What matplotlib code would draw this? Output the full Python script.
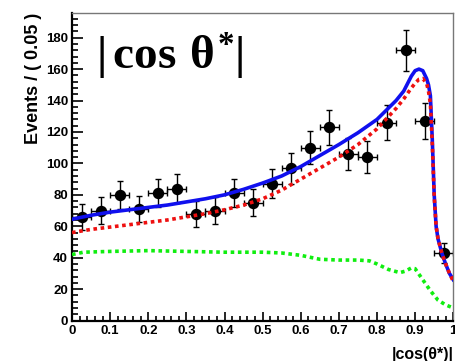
import numpy as np
import matplotlib
matplotlib.use("Agg")
import matplotlib.pyplot as plt
from matplotlib.ticker import MultipleLocator

plt.rcParams['font.family'] = ['Liberation Sans', 'DejaVu Sans']
plt.rcParams['mathtext.fontset'] = 'custom'
plt.rcParams['mathtext.rm'] = 'Liberation Serif:bold'
plt.rcParams['mathtext.it'] = 'Liberation Serif:bold'
plt.rcParams['mathtext.bf'] = 'Liberation Serif:bold'

# data points, bins of width 0.05
bin_centers = [0.025, 0.075, 0.125, 0.175, 0.225, 0.275, 0.325, 0.375, 0.425, 0.475,
               0.525, 0.575, 0.625, 0.675, 0.725, 0.775, 0.825, 0.875, 0.925, 0.975]
events = [66, 70, 80, 71, 81, 84, 68, 70, 81, 75,
          87, 97, 110, 123, 106, 104, 126, 172, 127, 43]
events_err = [8.1, 8.4, 8.9, 8.4, 9.0, 9.2, 8.2, 8.4, 9.0, 8.7,
              9.3, 9.8, 10.5, 11.1, 10.3, 10.2, 11.2, 13.1, 11.3, 6.6]
bin_half = [0.025] * len(bin_centers)

# total fit (blue)
fit_x = [0.0, 0.05, 0.1, 0.15, 0.2, 0.25, 0.3, 0.35, 0.4, 0.45, 0.5, 0.55, 0.6,
         0.65, 0.7, 0.75, 0.8, 0.85, 0.87, 0.89, 0.9, 0.91, 0.92, 0.93, 0.935,
         0.94, 0.945, 0.95, 0.955, 0.96, 0.97, 0.98, 0.99, 1.0]
fit_total = [64.5, 67, 69, 70.5, 72, 73.5, 75.5, 77.5, 80, 83.5, 87.5, 92, 98,
             105, 112, 119.5, 128, 140, 146, 155.5, 159, 160, 159, 154, 150,
             143, 115, 80, 60, 52, 43, 36, 30, 26]
# signal component (red)
fit_signal = [56, 58, 59.5, 61, 62.5, 64, 66, 68, 70.5, 73.5, 77.5, 83, 90,
              97, 104, 112, 122, 135, 141, 148, 151, 153.5, 154, 151, 146,
              138, 112, 79, 60, 52, 43, 36, 30, 25]

# background component (green)
bkg_x = [0.0, 0.03, 0.1, 0.2, 0.3, 0.4, 0.5, 0.55, 0.6, 0.65, 0.7, 0.75, 0.78,
         0.8, 0.83, 0.86, 0.875, 0.89, 0.9, 0.92, 0.94, 0.96, 0.98, 1.0]
fit_bkg = [42, 43.5, 44, 44.5, 44, 43.5, 43.5, 43, 41.5, 39, 38.5, 38.5, 38,
           36, 32.5, 30.5, 31.5, 33.5, 33, 26, 19, 13, 10, 8]

fig = plt.figure(figsize=(4.56, 3.61), dpi=100)
ax = fig.add_axes([0.158, 0.112, 0.836, 0.852])

ax.errorbar(bin_centers, events, yerr=events_err, xerr=bin_half, fmt='o',
            color='black', ms=7.2, elinewidth=1.0, capsize=2.5, capthick=1.0,
            zorder=2)
ax.plot(fit_x, fit_total, color='#1010ee', lw=2.6, zorder=3)
ax.plot(fit_x, fit_signal, color='#ee1010', lw=2.6, ls=(0, (1, 1)), zorder=4)
ax.plot(bkg_x, fit_bkg, color='#10ee10', lw=2.6, ls=(0, (1, 1)), zorder=4)

ax.set_xlim(0, 1)
ax.set_ylim(0, 195.7)

ax.xaxis.set_major_locator(MultipleLocator(0.1))
ax.xaxis.set_minor_locator(MultipleLocator(0.02))
ax.yaxis.set_major_locator(MultipleLocator(20))
ax.yaxis.set_minor_locator(MultipleLocator(4))
ax.xaxis.set_major_formatter(plt.FuncFormatter(lambda v, p: f"{v:g}"))

ax.tick_params(axis='both', which='both', direction='in', top=False, right=False,
               width=1.2, labelsize=9.5, pad=3)
ax.tick_params(axis='x', which='major', length=6.5)
ax.tick_params(axis='x', which='minor', length=3.5)
ax.tick_params(axis='y', which='major', length=8)
ax.tick_params(axis='y', which='minor', length=4)
for lab in ax.get_xticklabels() + ax.get_yticklabels():
    lab.set_fontweight('bold')

for side in ('left', 'bottom'):
    ax.spines[side].set_linewidth(1.6)
for side in ('top', 'right'):
    ax.spines[side].set_color('#777777')
    ax.spines[side].set_linewidth(1.0)

ax.set_ylabel('Events / ( 0.05 )', fontsize=13, fontweight='bold', loc='top')
ax.yaxis.set_label_coords(-0.078, 1.0)
ax.set_xlabel('|cos(θ*)|', fontsize=11.5, fontweight='bold', loc='right')
ax.xaxis.set_label_coords(1.0, -0.085)
ax.xaxis.label.set_va('top')

ax.text(0.062, 159.5, r'$|\,\mathrm{cos}\ \theta^{*}|$', fontsize=34,
        transform=ax.get_yaxis_transform(), va='baseline', ha='left')

fig.savefig('out.png', dpi=100)
